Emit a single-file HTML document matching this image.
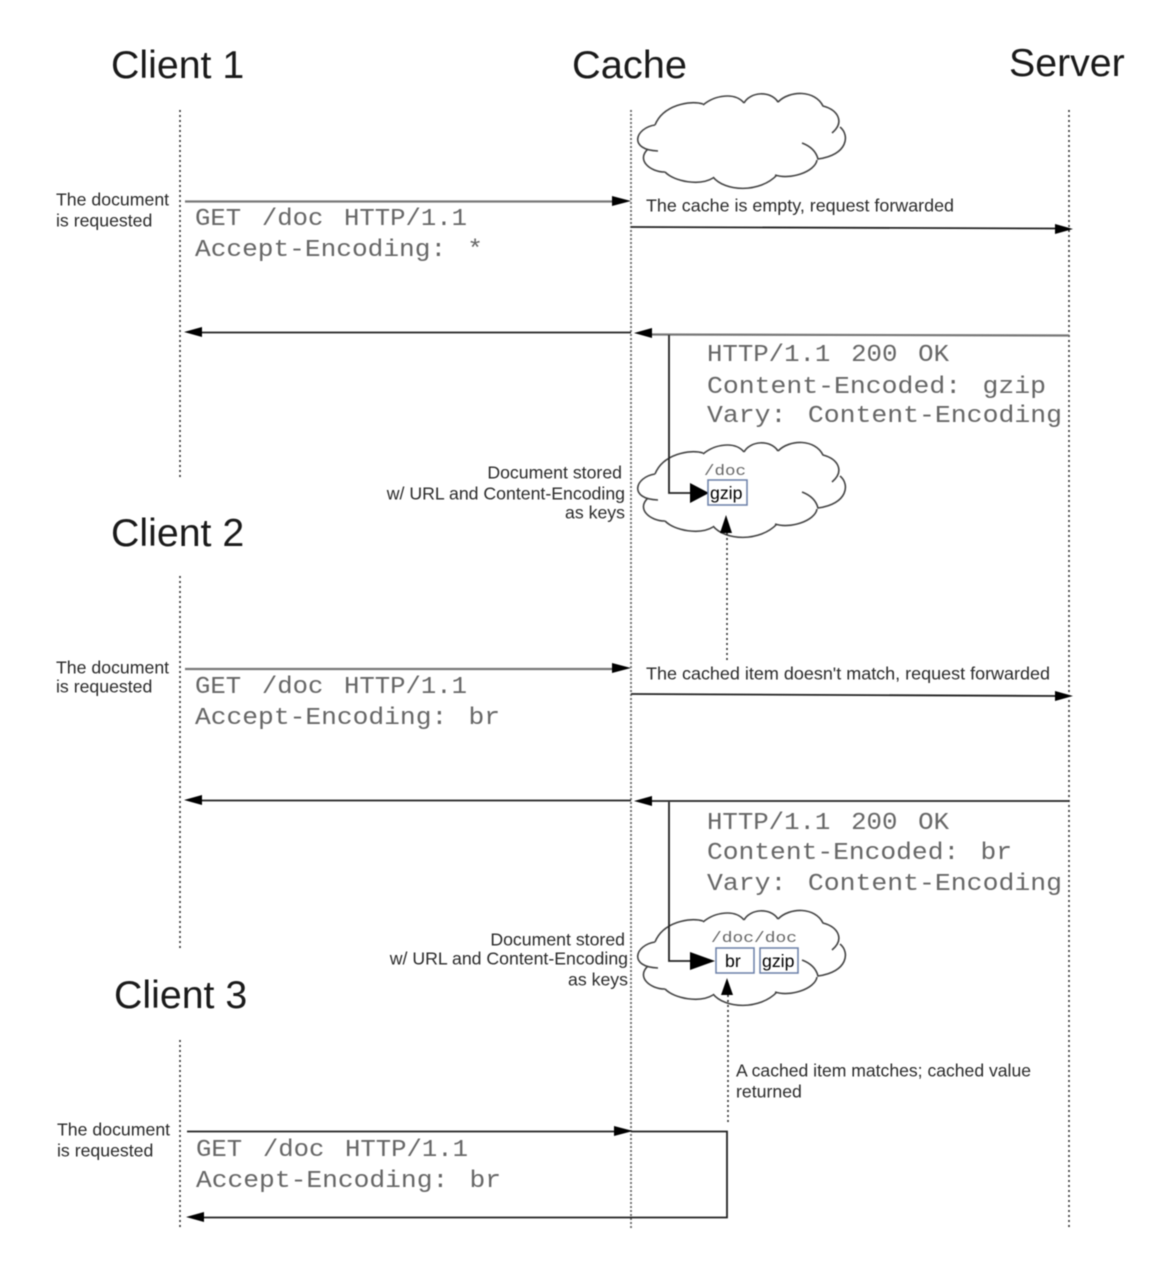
<!DOCTYPE html>
<html><head><meta charset="utf-8"><style>
html,body{margin:0;padding:0;background:#fff}
svg{display:block;filter:blur(.45px)}
.t{font-family:"Liberation Sans",sans-serif;font-size:39.3px;fill:#1a1a1a}
.s{font-family:"Liberation Sans",sans-serif;font-size:17.7px;fill:#2a2a2a}
.k{font-family:"Liberation Sans",sans-serif;font-size:17.7px;fill:#000}
.m{font-family:"Liberation Mono",monospace;font-size:24px;fill:#666;word-spacing:5px}
.l{stroke:#222;stroke-width:1.8;fill:none}
.g{stroke:#777;stroke-width:2.2;fill:none}
.d{stroke:#222;stroke-width:1.5;stroke-dasharray:2 3;fill:none}
.e{stroke:#666;stroke-width:1.8;stroke-dasharray:2 2;fill:none}
.a{fill:#000}
.c{fill:#fff;stroke:none}
.h{fill:none;stroke:#444;stroke-width:1.6}
.b{fill:#fff;stroke:#6a7fa8;stroke-width:1.5}
</style></head><body>
<svg width="1160" height="1262" viewBox="0 0 1160 1262" xmlns="http://www.w3.org/2000/svg">
<defs>
<g id="cloud">
<path class="c" d="M655 125C663 105 690 100 703 104C715 95 735 92 744 103C750 92 770 90 778 102C790 90 815 90 823 106C838 110 845 120 840 127C850 135 848 155 818 159C815 172 790 180 775 175C760 193 725 192 713 177C700 186 675 182 665 172C650 172 636 160 648 149C630 148 630 128 655 125Z"/>
<path class="h" d="M655 125C663 105 690 100 703 104M703 105C715 95 735 92 744 103M744 103C750 92 770 90 778 102M778 102C790 90 815 90 823 106C838 110 845 122 832 133M840 127C850 135 848 155 818 159C816 151 810 146 802 143M817 160C815 172 790 180 775 175M777 175C760 193 725 192 713 177M713 178C700 186 675 182 665 172M665 172C650 172 636 160 648 149M655 125C635 128 628 150 658 151"/>
</g>
</defs>

<text class="t" x="111" y="78">Client 1</text>
<text class="t" x="572" y="78" textLength="115" lengthAdjust="spacingAndGlyphs">Cache</text>
<text class="t" x="1009" y="76">Server</text>
<text class="t" x="111" y="546">Client 2</text>
<text class="t" x="114" y="1008">Client 3</text>

<path class="d" d="M180 110V480M180 576V948M180 1040V1230M1069 110V1230"/>
<path class="e" d="M631 110V1230"/>

<use href="#cloud"/>
<use href="#cloud" y="349"/>
<use href="#cloud" y="817"/>

<!-- Client 1 -->
<text class="s"><tspan x="56" y="205.500">The document</tspan><tspan x="56" y="226.500">is requested</tspan></text>
<path class="g" d="M185 201.500H615"/><path class="a" d="M631 201L612 196V206Z"/>
<text class="m" x="195" y="225" textLength="272" lengthAdjust="spacingAndGlyphs">GET /doc HTTP/1.1</text>
<text class="m" x="195" y="256" textLength="288" lengthAdjust="spacingAndGlyphs">Accept-Encoding: *</text>
<text class="s" x="646" y="211.500" textLength="308" lengthAdjust="spacingAndGlyphs">The cache is empty, request forwarded</text>
<path class="l" d="M631 227L1058 228.500"/><path class="a" d="M1073 229L1055 224V234Z"/>
<path class="g" d="M650 334.500L1069 335.500"/><path class="a" d="M634 333L652 328V338Z"/>
<path class="l" d="M200 332.500H631"/><path class="a" d="M184 332L202 327V337Z"/>
<path class="l" d="M669 335V493H695"/><path class="a" d="M709 493L690 483V503Z"/>
<text class="m" x="707" y="361" textLength="242" lengthAdjust="spacingAndGlyphs">HTTP/1.1 200 OK</text>
<text class="m" x="707" y="393" textLength="339" lengthAdjust="spacingAndGlyphs">Content-Encoded: gzip</text>
<text class="m" x="707" y="422" textLength="355" lengthAdjust="spacingAndGlyphs">Vary: Content-Encoding</text>
<text class="s" text-anchor="end"><tspan x="622" y="478.500">Document stored</tspan><tspan x="625" y="499.500">w/ URL and Content-Encoding</tspan><tspan x="625" y="518.500">as keys</tspan></text>
<text class="m" style="font-size:15px" x="704" y="475" textLength="42" lengthAdjust="spacingAndGlyphs">/doc</text>
<rect class="b" x="708" y="480" width="39" height="25"/>
<text class="k" x="710" y="499">gzip</text>
<path class="a" d="M726 515L720 533H732Z"/>
<path class="d" d="M727 533V660"/>

<!-- Client 2 -->
<text class="s"><tspan x="56" y="673.500">The document</tspan><tspan x="56" y="692.500">is requested</tspan></text>
<path class="g" d="M185 669H615"/><path class="a" d="M631 668L612 663V673Z"/>
<text class="m" x="195" y="693" textLength="272" lengthAdjust="spacingAndGlyphs">GET /doc HTTP/1.1</text>
<text class="m" x="195" y="724" textLength="305" lengthAdjust="spacingAndGlyphs">Accept-Encoding: br</text>
<text class="s" x="646" y="679.500" textLength="404" lengthAdjust="spacingAndGlyphs">The cached item doesn't match, request forwarded</text>
<path class="l" d="M631 694L1058 696"/><path class="a" d="M1073 696L1055 691V701Z"/>
<path class="l" d="M650 801H1069"/><path class="a" d="M634 801L652 796V806Z"/>
<path class="l" d="M200 800.500H631"/><path class="a" d="M184 800L202 795V805Z"/>
<path class="l" d="M669 802V961H695"/><path class="a" d="M715 961L690 952V970Z"/>
<text class="m" x="707" y="829" textLength="242" lengthAdjust="spacingAndGlyphs">HTTP/1.1 200 OK</text>
<text class="m" x="707" y="859" textLength="305" lengthAdjust="spacingAndGlyphs">Content-Encoded: br</text>
<text class="m" x="707" y="890" textLength="355" lengthAdjust="spacingAndGlyphs">Vary: Content-Encoding</text>
<text class="s" text-anchor="end"><tspan x="625" y="945.500">Document stored</tspan><tspan x="628" y="964.500">w/ URL and Content-Encoding</tspan><tspan x="628" y="985.500">as keys</tspan></text>
<text class="m" style="font-size:15px;word-spacing:0" x="711" y="942" textLength="86" lengthAdjust="spacingAndGlyphs">/doc/doc</text>
<rect class="b" x="716" y="948" width="38" height="25"/>
<text class="k" x="725" y="967">br</text>
<rect class="b" x="760" y="948" width="38" height="25"/>
<text class="k" x="762" y="967">gzip</text>
<path class="a" d="M727 978L721 995H733Z"/>
<path class="d" d="M728 995V1122"/>

<!-- Client 3 -->
<text class="s" x="736" y="1076.500" textLength="295" lengthAdjust="spacingAndGlyphs">A cached item matches; cached value</text>
<text class="s" x="736" y="1097.500">returned</text>
<text class="s"><tspan x="57" y="1135.500">The document</tspan><tspan x="57" y="1156.500">is requested</tspan></text>
<path class="l" d="M187 1131.500H615"/><path class="a" d="M633 1131L614 1126V1136Z"/>
<path class="l" d="M631 1131.500H727V1217.500H200"/><path class="a" d="M186 1217L204 1212V1222Z"/>
<text class="m" x="196" y="1156" textLength="272" lengthAdjust="spacingAndGlyphs">GET /doc HTTP/1.1</text>
<text class="m" x="196" y="1187" textLength="305" lengthAdjust="spacingAndGlyphs">Accept-Encoding: br</text>
</svg>
</body></html>
